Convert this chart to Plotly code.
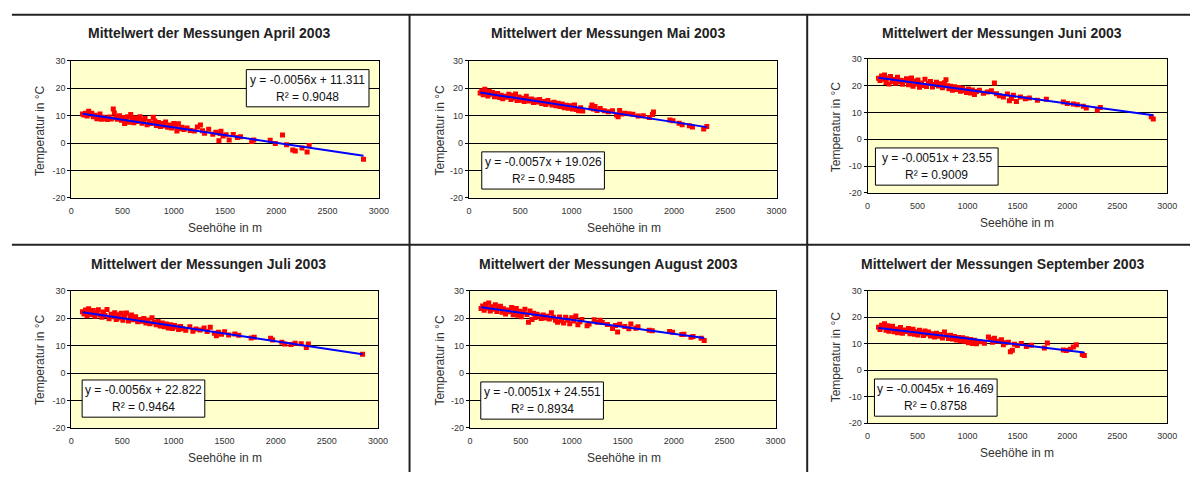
import plotly.graph_objects as go

# Monthly mean temperature vs. station altitude (2003), (altitude m, temperature °C)
april = [
    (110, 10.6), (125, 10.2), (140, 10.9), (155, 9.9), (170, 11.6), (185, 10.4), (200, 10.9),
    (215, 9.6), (230, 10.1), (250, 8.9), (265, 9.7), (280, 10.6), (295, 8.7), (310, 9.4),
    (330, 9.0), (350, 8.6), (370, 9.5), (390, 8.8), (410, 12.4), (420, 11.0), (435, 9.2),
    (450, 8.7), (470, 10.0), (490, 8.3), (505, 9.3), (520, 7.1), (535, 8.5), (550, 9.6),
    (565, 7.6), (580, 10.4), (595, 8.8), (610, 7.4), (625, 9.1), (640, 7.9), (655, 8.6),
    (670, 9.6), (690, 7.2), (705, 8.3), (720, 9.0), (740, 6.7), (760, 7.9), (780, 7.1),
    (800, 9.4), (815, 8.0), (830, 6.4), (850, 7.5), (870, 6.0), (890, 7.1), (905, 6.3),
    (920, 7.7), (940, 5.8), (960, 6.6), (980, 5.5), (1000, 7.1), (1015, 6.2), (1030, 4.4),
    (1045, 7.0), (1060, 5.2), (1080, 5.8), (1100, 4.9), (1130, 5.5), (1160, 4.6), (1200, 4.4),
    (1230, 5.9), (1260, 6.6), (1280, 4.5), (1300, 3.6), (1340, 5.0), (1380, 3.2), (1410, 3.9),
    (1440, 0.8), (1450, 3.5), (1460, 4.3), (1480, 2.6), (1510, 3.0), (1540, 1.1), (1580, 3.1),
    (1620, 2.0), (1650, 2.3), (1760, 0.6), (1780, 1.1), (1940, 1.0), (1990, -0.2), (2060, 2.9),
    (2100, -0.6), (2160, -2.5), (2185, -2.9), (2250, -1.8), (2300, -3.3), (2320, -0.9),
    (2850, -5.9),
]

mai = [
    (110, 18.3), (125, 19.0), (140, 17.6), (155, 19.6), (170, 18.4), (185, 17.2), (200, 18.9),
    (215, 17.8), (230, 18.4), (250, 16.9), (265, 17.6), (280, 18.1), (300, 16.6), (315, 17.4),
    (330, 16.2), (350, 17.1), (370, 16.7), (390, 17.8), (410, 15.9), (425, 17.3), (440, 16.4),
    (455, 17.9), (470, 15.5), (490, 16.8), (505, 15.6), (520, 16.3), (540, 15.2), (560, 17.1),
    (575, 15.8), (590, 15.3), (610, 16.1), (630, 14.8), (650, 15.7), (670, 15.0), (690, 15.9),
    (710, 14.4), (730, 15.2), (750, 14.1), (770, 15.5), (790, 14.6), (810, 13.9), (830, 14.9),
    (850, 13.6), (870, 14.5), (890, 13.3), (910, 14.2), (930, 12.9), (950, 13.8), (970, 12.7),
    (990, 13.6), (1010, 12.4), (1030, 13.9), (1050, 12.2), (1070, 11.8), (1090, 12.9),
    (1110, 11.7), (1190, 12.8), (1200, 13.9), (1215, 12.4), (1230, 13.3), (1250, 11.9),
    (1280, 12.6), (1320, 11.8), (1360, 11.4), (1400, 11.8), (1440, 10.2), (1455, 9.6),
    (1470, 11.9), (1490, 10.6), (1520, 10.9), (1560, 10.7), (1600, 10.5), (1650, 9.9),
    (1700, 10.0), (1760, 9.3), (1790, 10.4), (1800, 11.3), (1960, 8.4), (1990, 8.1),
    (2050, 7.2), (2080, 6.7), (2150, 6.3), (2180, 5.9), (2290, 5.1), (2320, 6.0),
]

juni = [
    (110, 22.8), (125, 21.9), (140, 23.6), (155, 22.4), (170, 24.0), (185, 21.2), (200, 22.9),
    (215, 20.6), (230, 23.4), (250, 21.6), (265, 22.3), (280, 20.9), (300, 23.1), (315, 21.4),
    (330, 22.0), (350, 20.5), (370, 21.8), (390, 22.6), (410, 20.3), (425, 21.3), (440, 22.9),
    (455, 19.8), (470, 21.7), (490, 20.6), (505, 22.1), (520, 19.4), (540, 21.0), (560, 20.1),
    (575, 22.4), (590, 19.7), (610, 20.8), (630, 21.6), (650, 19.5), (670, 20.4), (690, 21.3),
    (710, 19.9), (730, 20.7), (750, 19.2), (770, 21.1), (785, 22.2), (800, 20.0), (815, 18.9),
    (830, 19.8), (850, 18.3), (870, 19.6), (890, 18.6), (910, 19.3), (930, 17.9), (950, 19.0),
    (970, 18.2), (990, 17.5), (1010, 18.8), (1030, 17.3), (1050, 18.4), (1070, 16.7),
    (1090, 17.8), (1120, 18.3), (1160, 17.2), (1200, 17.6), (1240, 18.1), (1270, 21.0),
    (1290, 17.0), (1320, 16.2), (1360, 15.8), (1400, 16.9), (1420, 14.4), (1440, 15.2),
    (1460, 16.4), (1490, 14.1), (1530, 15.8), (1580, 15.1), (1620, 15.4), (1700, 14.6),
    (1790, 14.9), (1960, 13.9), (2000, 13.4), (2060, 13.2), (2100, 12.9), (2160, 12.3),
    (2190, 11.7), (2300, 10.8), (2330, 11.9), (2840, 8.4), (2860, 7.6),
]

juli = [
    (110, 22.4), (125, 21.6), (140, 23.0), (155, 20.9), (170, 23.5), (185, 22.1), (200, 21.4),
    (215, 22.8), (230, 20.7), (250, 21.9), (265, 23.1), (280, 21.2), (300, 20.4), (315, 22.3),
    (330, 21.0), (350, 23.2), (370, 19.8), (390, 21.5), (410, 20.6), (425, 22.0), (440, 19.6),
    (455, 21.3), (470, 20.1), (490, 21.8), (505, 19.3), (520, 20.7), (540, 21.9), (560, 19.0),
    (575, 20.4), (590, 21.2), (610, 19.5), (630, 20.6), (650, 18.7), (670, 19.6), (690, 18.9),
    (710, 19.9), (730, 18.3), (750, 19.4), (770, 18.0), (790, 20.2), (810, 18.6), (830, 17.6),
    (850, 18.8), (870, 17.2), (890, 18.3), (910, 16.9), (930, 17.9), (950, 16.5), (970, 17.6),
    (990, 16.3), (1010, 17.4), (1030, 16.8), (1050, 15.9), (1070, 17.0), (1090, 16.2),
    (1120, 15.6), (1160, 16.9), (1190, 15.3), (1220, 16.1), (1260, 15.7), (1300, 16.5),
    (1330, 15.2), (1360, 16.7), (1400, 14.5), (1420, 13.6), (1440, 14.9), (1470, 14.2),
    (1500, 15.1), (1540, 13.9), (1600, 14.3), (1640, 13.8), (1760, 12.8), (1790, 13.1),
    (1950, 12.7), (1970, 12.1), (2060, 11.3), (2090, 10.6), (2150, 10.4), (2190, 10.9),
    (2250, 10.7), (2300, 9.3), (2320, 10.6), (2850, 6.9),
]

august = [
    (110, 23.6), (125, 24.5), (140, 22.9), (155, 25.1), (170, 23.8), (185, 25.6), (200, 22.7),
    (215, 24.2), (230, 23.3), (250, 24.9), (265, 22.5), (280, 23.9), (300, 24.4), (315, 22.2),
    (330, 23.5), (350, 21.6), (370, 23.0), (390, 22.4), (410, 23.9), (425, 21.3), (440, 22.8),
    (455, 23.6), (470, 21.1), (490, 22.6), (505, 20.6), (520, 22.1), (540, 23.3), (560, 21.4),
    (575, 18.6), (590, 22.7), (610, 19.6), (625, 21.8), (640, 20.3), (660, 21.5), (680, 20.8),
    (700, 19.9), (720, 21.2), (740, 20.1), (760, 20.7), (780, 19.7), (800, 22.0), (820, 20.4),
    (840, 19.3), (860, 18.6), (880, 20.5), (900, 19.1), (920, 18.3), (940, 20.4), (960, 19.4),
    (980, 18.0), (1000, 20.2), (1020, 19.0), (1040, 20.8), (1060, 17.6), (1080, 18.7),
    (1100, 19.6), (1150, 17.3), (1170, 17.9), (1220, 19.5), (1250, 18.6), (1280, 19.3),
    (1300, 18.5), (1350, 17.7), (1400, 16.3), (1430, 17.4), (1450, 15.0), (1470, 17.8),
    (1520, 17.0), (1560, 16.2), (1580, 17.9), (1630, 16.4), (1650, 16.9), (1760, 15.6),
    (1790, 15.5), (1960, 15.2), (1990, 14.9), (2080, 14.1), (2100, 14.2), (2170, 13.1),
    (2190, 13.4), (2270, 12.7), (2300, 11.9),
]

september = [
    (110, 16.2), (125, 15.4), (140, 17.0), (155, 16.4), (170, 17.6), (185, 15.1), (200, 16.8),
    (215, 14.7), (230, 15.9), (250, 16.6), (265, 14.5), (280, 15.6), (300, 14.2), (315, 15.3),
    (330, 16.1), (350, 14.0), (370, 15.2), (390, 14.6), (410, 15.8), (425, 13.8), (440, 14.9),
    (455, 15.5), (470, 13.6), (490, 14.5), (505, 13.3), (520, 15.1), (540, 14.3), (560, 13.1),
    (575, 14.8), (590, 13.7), (610, 14.4), (630, 12.9), (650, 13.8), (670, 12.6), (690, 14.0),
    (710, 12.8), (730, 13.5), (750, 12.2), (770, 14.4), (790, 13.1), (810, 12.0), (830, 13.2),
    (850, 11.8), (870, 12.7), (890, 11.4), (910, 12.4), (930, 11.1), (950, 12.3), (970, 10.9),
    (990, 11.9), (1010, 10.4), (1030, 11.6), (1050, 10.1), (1070, 11.3), (1090, 10.0),
    (1120, 10.8), (1170, 10.2), (1210, 12.6), (1230, 11.7), (1250, 10.6), (1270, 12.1),
    (1300, 10.9), (1340, 11.5), (1360, 9.6), (1380, 10.4), (1410, 10.6), (1430, 7.0),
    (1450, 7.5), (1470, 9.8), (1500, 9.3), (1540, 10.1), (1590, 9.0), (1640, 9.4),
    (1770, 8.4), (1800, 10.3), (1960, 7.6), (1990, 7.4), (2030, 7.9), (2060, 8.8),
    (2090, 9.6), (2150, 5.9), (2170, 5.6),
]

months = ["April", "Mai", "Juni", "Juli", "August", "September"]
series = [april, mai, juni, juli, august, september]
slopes = [-0.0056, -0.0057, -0.0051, -0.0056, -0.0051, -0.0045]
intercepts = [11.311, 19.026, 23.55, 22.822, 24.551, 16.469]
r_squared = [0.9048, 0.9485, 0.9009, 0.9464, 0.8934, 0.8758]

x_ticks = [0, 500, 1000, 1500, 2000, 2500, 3000]
y_ticks = [-20, -10, 0, 10, 20, 30]
y_tick_labels = ["-20", "-10", "0", "10", "20", "30"]

W, H = 1200, 477
FONT = "Liberation Sans, Arial, sans-serif"

# Plot-area boxes in pixels: (left, right, top, bottom)
plot_boxes = [
    (69, 380, 57, 197), (471, 782, 57, 197), (874, 1177, 55, 192),
    (69, 379, 292, 432), (472, 781, 292, 432), (874, 1177, 292, 427),
]
title_pos = [(208, 29), (612, 29), (1010, 29), (208, 265), (612, 265), (1010, 265)]
xtitle_pos = [(224, 228), (628, 228), (1025, 223), (224, 463), (628, 463), (1025, 458)]
ytitle_pos = [(38, 129), (442, 128), (843, 125), (38, 363), (442, 363), (843, 360)]
# centre of the regression-equation box, and its size
eq_pos = [(308, 85), (546, 169), (944, 165), (142, 402), (545, 404), (943, 401)]
EQ_W, EQ_H = 124, 38


def px(x):
    return x / W


def py(y):
    return 1 - y / H


fig = go.Figure()
annotations = []
shapes = []


def label(text, x, y, size, color="#333333", angle=0):
    annotations.append(dict(
        text=text, x=px(x), y=py(y), xref="paper", yref="paper", showarrow=False,
        xanchor="center", yanchor="middle", textangle=angle,
        font=dict(family=FONT, size=size, color=color)))


for i, (name, pts, a, b, r2) in enumerate(zip(months, series, slopes, intercepts, r_squared)):
    n = i + 1
    xs = [p[0] for p in pts]
    ys = [p[1] for p in pts]
    xa = "x" if n == 1 else f"x{n}"
    ya = "y" if n == 1 else f"y{n}"

    fig.add_trace(go.Scatter(
        x=xs, y=ys, mode="markers", xaxis=xa, yaxis=ya,
        marker=dict(symbol="square", size=5, color="#FF0000", line=dict(width=0)),
        showlegend=False, hoverinfo="skip",
    ))
    # linear trend line from the stated regression equation
    x0, x1 = min(xs), max(xs)
    fig.add_trace(go.Scatter(
        x=[x0, x1], y=[a * x0 + b, a * x1 + b], mode="lines", xaxis=xa, yaxis=ya,
        line=dict(color="#0000FF", width=2), showlegend=False, hoverinfo="skip",
    ))

    l, r, t, btm = plot_boxes[i]
    axis_common = dict(showline=True, mirror=True, linecolor="black", linewidth=1,
                       zeroline=False, fixedrange=True,
                       tickfont=dict(family=FONT, size=9, color="#333333"))
    fig.update_layout(**{
        f"xaxis{'' if n == 1 else n}": dict(
            domain=[px(l), px(r)], anchor=ya, range=[0, 3000],
            tickvals=x_ticks, showgrid=False,
            ticks="outside", ticklen=4, tickcolor="rgba(0,0,0,0)", **axis_common),
        f"yaxis{'' if n == 1 else n}": dict(
            domain=[py(btm), py(t)], anchor=xa, range=[-20, 30],
            tickvals=y_ticks, ticktext=y_tick_labels,
            showgrid=True, gridcolor="black", gridwidth=1,
            ticks="outside", ticklen=3, tickcolor="black", **axis_common),
    })

    tx, ty = title_pos[i]
    label(f"<b>Mittelwert der Messungen {name} 2003</b>", tx, ty, 14, "#222222")
    label("Seehöhe in m", *xtitle_pos[i], 12)
    label("Temperatur in °C", *ytitle_pos[i], 12, angle=-90)

    # regression equation box
    ex, ey = eq_pos[i]
    shapes.append(dict(
        type="rect", xref="paper", yref="paper", layer="above",
        x0=px(ex - EQ_W / 2), x1=px(ex + EQ_W / 2),
        y0=py(ey + EQ_H / 2), y1=py(ey - EQ_H / 2),
        fillcolor="white", line=dict(color="black", width=1)))
    label(f"y = {a:g}x + {b:g}", ex, ey - 8.5, 12, "#111111")
    label(f"R² = {r2:g}", ex, ey + 8.5, 12, "#111111")

# table-style separator rules between the panels
line_style = dict(color="#222222", width=2)
shapes += [
    dict(type="line", xref="paper", yref="paper", x0=px(9), x1=1, y0=py(10), y1=py(10), line=line_style),
    dict(type="line", xref="paper", yref="paper", x0=px(9), x1=1, y0=py(245), y1=py(245), line=line_style),
    dict(type="line", xref="paper", yref="paper", x0=px(411), x1=px(411), y0=py(10), y1=0, line=line_style),
    dict(type="line", xref="paper", yref="paper", x0=px(813), x1=px(813), y0=py(10), y1=0, line=line_style),
]

fig.update_layout(
    width=W, height=H, margin=dict(l=0, r=0, t=0, b=0),
    paper_bgcolor="white", plot_bgcolor="#FFFFCC",
    annotations=annotations, shapes=shapes, showlegend=False,
)

fig.write_html("out.html")
